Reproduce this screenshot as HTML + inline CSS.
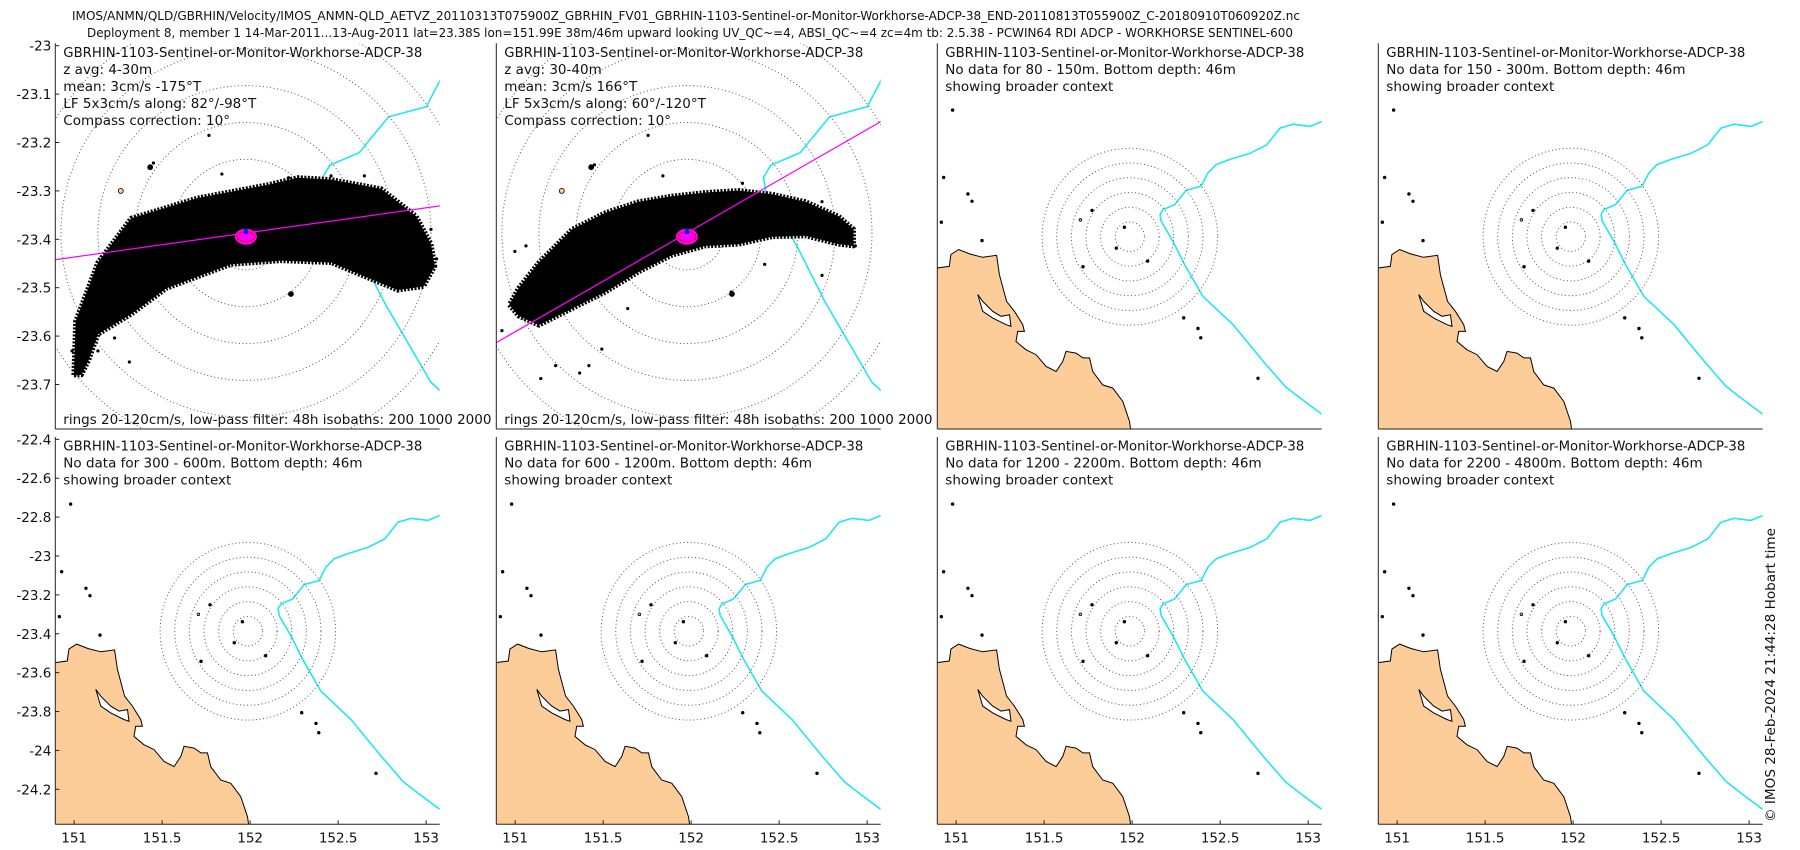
<!DOCTYPE html>
<html><head><meta charset="utf-8">
<style>
html,body{margin:0;padding:0;background:#fff;}
svg{display:block;font-family:"DejaVu Sans","Liberation Sans",sans-serif;}
text{fill:#111;}
</style></head>
<body>
<svg id="fig" width="1800" height="850" viewBox="0 0 1800 850" xmlns="http://www.w3.org/2000/svg">
<defs id="defs"></defs>
<text x="686" y="20" font-size="12.5" text-anchor="middle" textLength="1228" lengthAdjust="spacingAndGlyphs">IMOS/ANMN/QLD/GBRHIN/Velocity/IMOS_ANMN-QLD_AETVZ_20110313T075900Z_GBRHIN_FV01_GBRHIN-1103-Sentinel-or-Monitor-Workhorse-ADCP-38_END-20110813T055900Z_C-20180910T060920Z.nc</text>
<text x="690" y="37" font-size="12.5" text-anchor="middle" textLength="1206" lengthAdjust="spacingAndGlyphs">Deployment 8, member 1 14-Mar-2011...13-Aug-2011 lat=23.38S lon=151.99E 38m/46m upward looking UV_QC~=4, ABSI_QC~=4 zc=4m tb: 2.5.38 - PCWIN64 RDI ADCP - WORKHORSE SENTINEL-600</text>
<g id="panels"></g>
<text transform="translate(1775,822) rotate(-90)" font-size="13" textLength="294" lengthAdjust="spacingAndGlyphs">© IMOS 28-Feb-2024 21:44:28 Hobart time</text>
</svg>
<script>
// ---------- data ----------
const ringSpeeds = [20, 40, 60, 80, 100, 120];          // cm/s
const centerLon = 151.987, centerLat = -23.387;
const degLonPerCm = 0.004154, degLatPerCm = 0.003807;
const alongAngles = [82, 60];                            // deg true, panels 1-2
// low-pass velocity cloud outlines (cm/s)
const cloud1U = [-93,-92,-80,-62,-26,11,28,46,73,92,100,102,96,82,46,19,-8,-43,-62,-80,-85,-89];
const cloud1V = [-77,-48,-16,8,19,26,30,29,24,9,-6,-18,-29,-31,-16,-15,-17,-30,-44,-55,-69,-77];
const cloud2U = [-91,-80,-62,-44,-26,-8,10,28,46,64,82,90,90,82,64,46,28,10,-8,-26,-44,-62,-80,-91,-96];
const cloud2V = [-30,-16,2,11,17,20,22,23,21,17,9,2,-7,-6,-1.5,-2,-6,-7,-12,-21,-32,-41,-50,-45,-39];
const out1U = [-20,-50,-94,-88,-63,-80,-91,-71,103,100,102,23,46,64,-13];
const out1V = [53,38,-64,-75,-70,-64,-58,-57,-14,2,-18,30,31,31,32];
const out2U = [-21,-50,-13,-93,-87,-100,-79,-71,-58,-53,-46,-32,24,42,73,91,73,30];
const out2V = [53,37,31,-10,-7,-53,-79,-72,-76,-72,-63,-41,-32,-17,-23,-7,17,27];
// coastline (lon, lat)
const coastLon = [150.88,150.896,150.961,150.970,151.014,151.078,151.151,151.230,151.246,151.287,151.331,151.378,151.388,151.350,151.340,151.397,151.454,151.511,151.568,151.606,151.625,151.681,151.720,151.758,151.776,151.833,151.890,151.947,151.985,151.994,150.88];
const coastLat = [-23.548,-23.548,-23.540,-23.479,-23.453,-23.476,-23.493,-23.483,-23.583,-23.721,-23.772,-23.841,-23.876,-23.876,-23.928,-23.971,-23.996,-24.057,-24.083,-24.031,-23.979,-23.988,-24.013,-24.013,-24.083,-24.152,-24.169,-24.238,-24.341,-24.40,-24.40];
const inletLon = [151.123,151.151,151.208,151.283,151.312,151.303,151.255,151.208,151.151];
const inletLat = [-23.686,-23.772,-23.807,-23.841,-23.850,-23.790,-23.798,-23.772,-23.721];
// 200 m isobath
const isoLon = [153.077,153.011,152.914,152.840,152.765,152.670,152.554,152.478,152.431,152.392,152.307,152.241,152.175,152.159,152.165,152.232,152.298,152.402,152.573,152.745,152.869,152.954,153.077];
const isoLat = [-22.792,-22.817,-22.806,-22.826,-22.912,-22.956,-22.988,-23.014,-23.057,-23.126,-23.147,-23.221,-23.247,-23.272,-23.307,-23.411,-23.531,-23.695,-23.841,-24.031,-24.160,-24.220,-24.303];
const islandLon = [150.98,151.706,151.721,152.088,151.910,151.956,151.772,152.293,151.067,151.090,150.929,150.916,151.147,152.374,152.390,152.715];
const islandLat = [-22.733,-23.300,-23.542,-23.513,-23.446,-23.338,-23.251,-23.806,-23.166,-23.204,-23.081,-23.312,-23.407,-23.861,-23.909,-24.118];
const yTicksZoom = [-23,-23.1,-23.2,-23.3,-23.4,-23.5,-23.6,-23.7];
const yTicksWide = [-22.4,-22.6,-22.8,-23,-23.2,-23.4,-23.6,-23.8,-24,-24.2];
const xTicksWide = [151,151.5,152,152.5,153];
const xTickLabels = ["151","151.5","152","152.5","153"];
const depthRanges = ["80 - 150m","150 - 300m","300 - 600m","600 - 1200m","1200 - 2200m","2200 - 4800m"];
const headerName = "GBRHIN-1103-Sentinel-or-Monitor-Workhorse-ADCP-38";

// ---------- layout ----------
const NS = "http://www.w3.org/2000/svg";
const svg = document.getElementById('fig');
const defs = document.getElementById('defs');
const root = document.getElementById('panels');
const colX = [55.3, 496.3, 937.3, 1378.3], PW = 384.4;
const rowY = [43.3, 437], rowH = [385.7, 387.3];
const zoomExt = {lon0:151.559, lon1:152.422, lat0:-22.995, lat1:-23.792};
const wideExt = {lon0:150.893, lon1:153.077, lat0:-22.388, lat1:-24.38};

function mk(tag, attrs, parent){ const e=document.createElementNS(NS,tag); for(const k in attrs) e.setAttribute(k,attrs[k]); (parent||root).appendChild(e); return e; }
function X(p,lon){ return p.x + (lon-p.lon0)/(p.lon1-p.lon0)*p.w; }
function Y(p,lat){ return p.y + (p.lat0-lat)/(p.lat0-p.lat1)*p.h; }
function VX(p,u){ return X(p, centerLon + u*degLonPerCm); }
function VY(p,v){ return Y(p, centerLat + v*degLatPerCm); }
function pathLL(p, lons, lats, close){ let d=''; for(let i=0;i<lons.length;i++){ d+=(i?'L':'M')+X(p,lons[i]).toFixed(1)+','+Y(p,lats[i]).toFixed(1);} return d+(close?'Z':''); }
function pathUV(p, us, vs){ let d=''; for(let i=0;i<us.length;i++){ d+=(i?'L':'M')+VX(p,us[i]).toFixed(1)+','+VY(p,vs[i]).toFixed(1);} return d+'Z'; }

function buildPanel(idx){
  const row = idx<4?0:1, col = idx%4;
  const zoomed = idx<2;
  const ext = zoomed?zoomExt:wideExt;
  const p = Object.assign({x:colX[col], y:rowY[row], w:PW, h:rowH[row]}, ext);
  const g = mk('g',{});
  
  
  const bg = mk('rect',{x:p.x,y:p.y,width:p.w,height:p.h,fill:'#fff'},g);
  
  
  const cid='clip'+idx;
  const cp=mk('clipPath',{id:cid},defs); mk('rect',{x:p.x,y:p.y,width:p.w,height:p.h},cp);
  const pl = mk('g',{'clip-path':'url(#'+cid+')'},g);
  const coast = mk('path',{d:pathLL(p,coastLon,coastLat,true),fill:'#fccd99',stroke:'#000','stroke-width':1},pl);
  
  
  const inlet = mk('path',{d:pathLL(p,inletLon,inletLat,true),fill:'#fff',stroke:'#000','stroke-width':1},pl);
  
  
  for(let i=0;i<islandLon.length;i++){
    const isl = mk('circle',{cx:X(p,islandLon[i]),cy:Y(p,islandLat[i]),r:zoomed?2.5:1.3,fill:i===1?'#fccd99':'#000',stroke:'#000','stroke-width':0.8},pl);
    
    
  }
  const iso = mk('path',{d:pathLL(p,isoLon,isoLat,false),fill:'none',stroke:'#22e6f0','stroke-width':1.6},pl);
  
  
  for(let i=0;i<ringSpeeds.length;i++){
    const rx = Math.abs(VX(p,ringSpeeds[i])-VX(p,0)), ry = Math.abs(VY(p,ringSpeeds[i])-VY(p,0));
    const ring = mk('ellipse',{cx:VX(p,0),cy:VY(p,0),rx:rx,ry:ry,fill:'none',stroke:'#555','stroke-width':1,'stroke-dasharray':'1 2.6'},pl);
    
    
  }
  if(zoomed){
    const cu = idx===0?cloud1U:cloud2U, cv = idx===0?cloud1V:cloud2V;
    const ou = idx===0?out1U:out2U, ov = idx===0?out1V:out2V;
    const cl = mk('path',{d:pathUV(p,cu,cv),fill:'#000',stroke:'#000','stroke-width':5,'stroke-dasharray':'2 1.5','stroke-linejoin':'round'},pl);
    
    
    for(let i=0;i<ou.length;i++){
      const d = mk('circle',{cx:VX(p,ou[i]),cy:VY(p,ov[i]),r:1.6,fill:'#000'},pl);
      
      
    }
    const a = alongAngles[idx]*Math.PI/180;
    const L = 400;
    const ln = mk('line',{x1:VX(p,-L*Math.sin(a)),y1:VY(p,-L*Math.cos(a)),x2:VX(p,L*Math.sin(a)),y2:VY(p,L*Math.cos(a)),stroke:'#ff00ff','stroke-width':1.2},pl);
    
    
    const mb = mk('ellipse',{cx:VX(p,0),cy:VY(p,-2),rx:11,ry:8,fill:'#ff00ff'},pl);
    
    
    const re = mk('ellipse',{cx:VX(p,0),cy:VY(p,-2),rx:9,ry:5,fill:'none',stroke:'#e00','stroke-width':1},pl);
    
    
    const bl = mk('rect',{x:VX(p,0)-2,y:VY(p,0)-4,width:4,height:5,fill:'#0020ff'},pl);
    
    
  }
  const yax = mk('line',{x1:p.x,y1:p.y,x2:p.x,y2:p.y+p.h,stroke:'#222','stroke-width':1},g);
  
  
  const xax = mk('line',{x1:p.x,y1:p.y+p.h,x2:p.x+p.w,y2:p.y+p.h,stroke:'#222','stroke-width':1},g);
  
  
  if(col===0){
    const ticks = zoomed?yTicksZoom:yTicksWide;
    for(const t of ticks){
      const ty=Y(p,t);
      mk('line',{x1:p.x,y1:ty,x2:p.x+4,y2:ty,stroke:'#222'},g);
      const lb = mk('text',{x:p.x-4,y:ty+5,'font-size':13.5,'text-anchor':'end'},g);
      lb.textContent = String(t);
      
      
    }
  }
  if(row===1){
    for(let i=0;i<xTicksWide.length;i++){
      const tx=X(p,xTicksWide[i]);
      mk('line',{x1:tx,y1:p.y+p.h,x2:tx,y2:p.y+p.h-4,stroke:'#222'},g);
      const lb = mk('text',{x:tx,y:p.y+p.h+18,'font-size':13.5,'text-anchor':'middle'},g);
      lb.textContent = xTickLabels[i];
      
      
    }
  }
  let lines;
  if(idx===0) lines=[headerName,"z avg: 4-30m","mean: 3cm/s -175°T","LF 5x3cm/s along: 82°/-98°T","Compass correction: 10°"];
  else if(idx===1) lines=[headerName,"z avg: 30-40m","mean: 3cm/s 166°T","LF 5x3cm/s along: 60°/-120°T","Compass correction: 10°"];
  else lines=[headerName,"No data for "+depthRanges[idx-2]+". Bottom depth: 46m","showing broader context"];
  const by = p.y + 13.5;
  for(let i=0;i<lines.length;i++){
    const attrs={x:p.x+8,y:by+i*17,'font-size':13.5};
    if(i===0){attrs.textLength=359; attrs.lengthAdjust='spacingAndGlyphs';}
    const t = mk('text',attrs,g);
    t.textContent = lines[i];
    
    
  }
  if(zoomed){
    const t = mk('text',{x:p.x+8,y:p.y+p.h-5,'font-size':13.5},g);
    t.textContent = "rings 20-120cm/s, low-pass filter: 48h isobaths: 200 1000 2000 4000";
    
    
  }
}
for(let i=0;i<8;i++) buildPanel(i);
</script>
</body></html>
